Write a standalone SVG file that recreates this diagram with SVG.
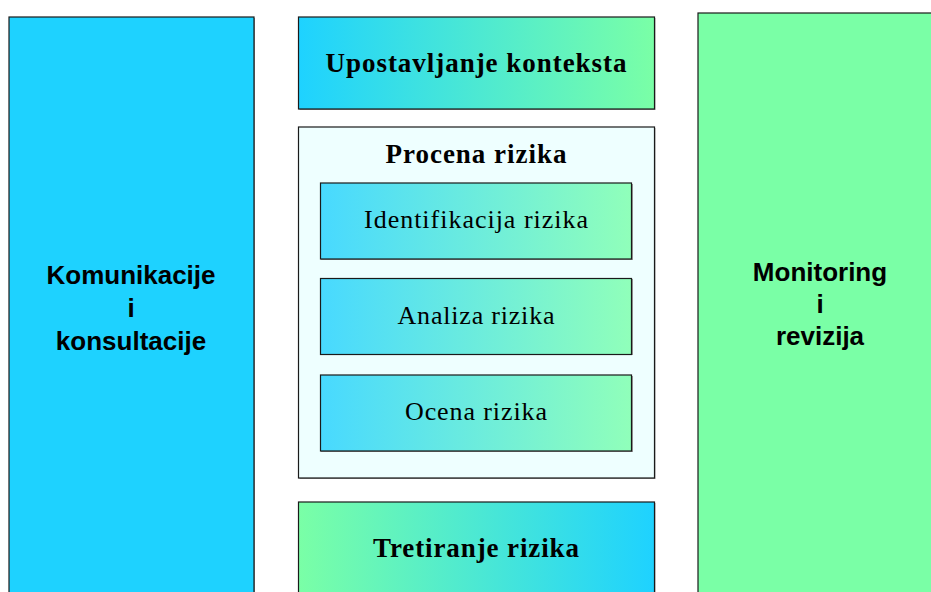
<svg xmlns="http://www.w3.org/2000/svg" width="931" height="592" viewBox="0 0 931 592">
<defs>
<linearGradient id="gBG" x1="0" y1="0" x2="1" y2="0"><stop offset="0" stop-color="#1ED2FF"/><stop offset="1" stop-color="#7AFFA6"/></linearGradient>
<linearGradient id="gGB" x1="0" y1="0" x2="1" y2="0"><stop offset="0" stop-color="#7AFFA6"/><stop offset="1" stop-color="#1ED2FF"/></linearGradient>
<linearGradient id="gIn" x1="0" y1="0" x2="1" y2="0"><stop offset="0" stop-color="#48D9FF"/><stop offset="1" stop-color="#90FFBA"/></linearGradient>
</defs>
<style>
.box{stroke:#1a1a1a;stroke-width:1.2}
.sh{fill:#999}
.t{font-family:"Liberation Serif",serif;font-weight:bold;font-size:27px;fill:#000;text-anchor:middle}
.r{font-family:"Liberation Serif",serif;font-size:26px;fill:#000;text-anchor:middle}
.s{font-family:"Liberation Sans",Arial,sans-serif;font-weight:bold;font-size:26px;fill:#000;text-anchor:middle}
</style>
<g id="komunikacije">
<rect class="sh" x="10" y="18" width="245" height="580"/>
<rect class="box" x="9" y="17" width="245" height="580" fill="#1ED2FF"/>
<text class="s" x="131" y="284">Komunikacije</text>
<text class="s" x="131" y="317">i</text>
<text class="s" x="131" y="350">konsultacije</text>
</g>
<g id="upostavljanje">
<rect class="sh" x="299.5" y="18" width="356" height="92"/>
<rect class="box" x="298.5" y="17" width="356" height="92" fill="url(#gBG)"/>
<text class="t" x="476" y="72" textLength="301" lengthAdjust="spacing">Upostavljanje konteksta</text>
</g>
<g id="procena">
<rect class="sh" x="299.5" y="128" width="356" height="351"/>
<rect class="box" x="298.5" y="127" width="356" height="351" fill="#EEFFFF"/>
<text class="t" x="476" y="163" textLength="181" lengthAdjust="spacing">Procena rizika</text>
</g>
<g id="identifikacija">
<rect class="sh" x="321" y="184" width="312" height="76"/>
<rect class="box" x="320.5" y="183" width="311" height="76" fill="url(#gIn)"/>
<text class="r" x="476" y="228" textLength="224" lengthAdjust="spacing">Identifikacija rizika</text>
</g>
<g id="analiza">
<rect class="sh" x="321" y="279" width="312" height="76"/>
<rect class="box" x="320.5" y="278.5" width="311" height="76" fill="url(#gIn)"/>
<text class="r" x="476" y="324" textLength="157" lengthAdjust="spacing">Analiza rizika</text>
</g>
<g id="ocena">
<rect class="sh" x="321" y="376" width="312" height="76"/>
<rect class="box" x="320.5" y="375" width="311" height="76" fill="url(#gIn)"/>
<text class="r" x="476" y="420" textLength="142" lengthAdjust="spacing">Ocena rizika</text>
</g>
<g id="tretiranje">
<rect class="sh" x="299.5" y="503" width="356" height="100"/>
<rect class="box" x="298.5" y="502" width="356" height="100" fill="url(#gGB)"/>
<text class="t" x="476" y="557" textLength="206" lengthAdjust="spacing">Tretiranje rizika</text>
</g>
<g id="monitoring">
<rect class="sh" x="699" y="14" width="250" height="590"/>
<rect class="box" x="698" y="13" width="250" height="590" fill="#7AFFA6"/>
<text class="s" x="820" y="281">Monitoring</text>
<text class="s" x="820" y="313">i</text>
<text class="s" x="820" y="345">revizija</text>
</g>
<g id="connectors"/>
</svg>
